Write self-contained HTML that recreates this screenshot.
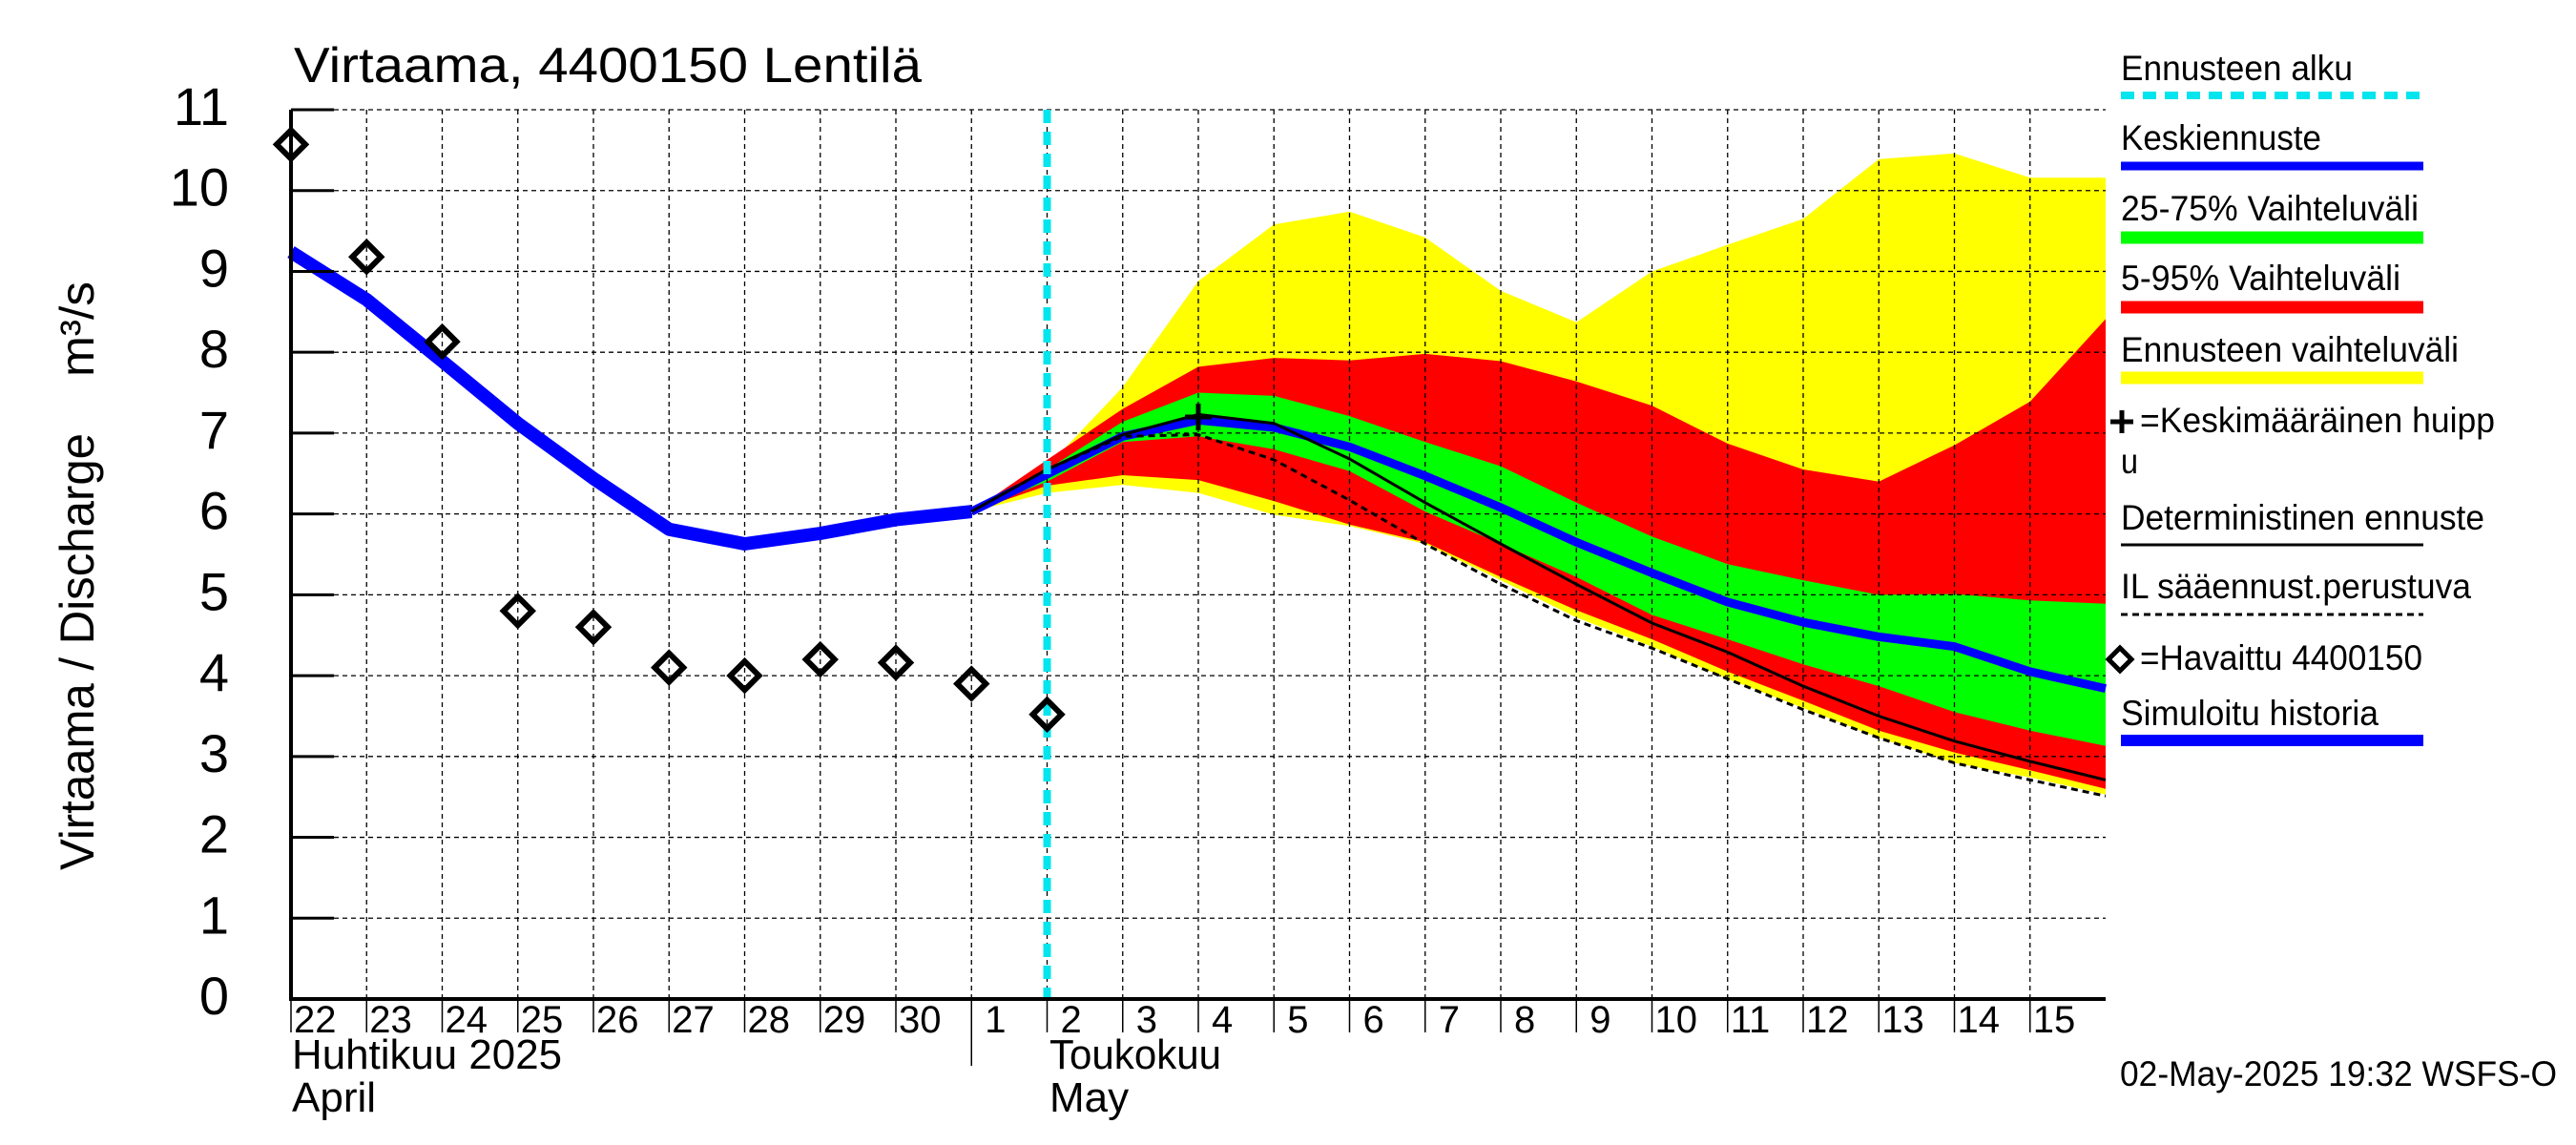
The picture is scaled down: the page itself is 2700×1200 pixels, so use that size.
<!DOCTYPE html>
<html><head><meta charset="utf-8"><style>
html,body{margin:0;padding:0;background:#fff;}
svg{display:block;font-family:"Liberation Sans",sans-serif;}
</style></head><body>
<svg id="chart" width="2700" height="1200" viewBox="0 0 2700 1200" xmlns="http://www.w3.org/2000/svg">
<rect width="2700" height="1200" fill="#fff"/>
<g id="bands"></g><g id="grid"></g><g id="lines"></g><g id="axes"></g><g id="legend"></g>
</svg>
<script>
const dayLabels=["22","23","24","25","26","27","28","29","30","1","2","3","4","5","6","7","8","9","10","11","12","13","14","15"];
const yTicks=[0,1,2,3,4,5,6,7,8,9,10,11];
const observed=[10.57,9.18,8.13,4.80,4.60,4.10,4.00,4.20,4.16,3.90,3.52];
const simHistory=[9.24,8.65,7.89,7.12,6.44,5.81,5.63,5.76,5.93,6.03];
// forecast arrays start at index 9 (1 May) through 24
const yellowHi=[6.03,6.58,7.57,8.88,9.58,9.74,9.42,8.76,8.37,9.00,9.33,9.65,10.39,10.46,10.16,10.16];
const yellowLo=[6.03,6.26,6.36,6.26,5.99,5.85,5.63,5.18,4.72,4.36,3.96,3.60,3.23,2.92,2.74,2.53];
const redHi=[6.03,6.67,7.30,7.82,7.93,7.90,7.98,7.89,7.64,7.34,6.87,6.55,6.40,6.85,7.39,8.41];
const redLo=[6.03,6.35,6.48,6.42,6.16,5.87,5.65,5.22,4.81,4.45,4.05,3.69,3.32,3.05,2.83,2.60];
const greenHi=[6.03,6.55,7.14,7.50,7.46,7.21,6.89,6.59,6.14,5.72,5.38,5.18,5.00,5.01,4.93,4.89];
const greenLo=[6.03,6.40,6.89,6.96,6.80,6.53,6.03,5.63,5.22,4.75,4.45,4.14,3.87,3.55,3.32,3.13];
const median=[6.03,6.49,6.96,7.16,7.07,6.83,6.47,6.08,5.65,5.27,4.91,4.66,4.48,4.36,4.05,3.84];
const determ=[6.03,6.55,6.98,7.23,7.12,6.68,6.14,5.63,5.13,4.65,4.29,3.87,3.50,3.19,2.94,2.71];
const ilFc=[6.03,6.55,6.96,6.98,6.67,6.17,5.63,5.13,4.68,4.34,3.96,3.58,3.23,2.92,2.71,2.51];
const peakDay=12, peakVal=7.2;
const fcStart=9, fcLineIdx=10;

const X0=305,X1=2207,Y0=1047,Y11=115;
const xs=i=>X0+i*(X1-X0)/24;
const ys=v=>Y0-v*(Y0-Y11)/11;
const NS="http://www.w3.org/2000/svg";
function mk(tag,parent,attrs){const e=document.createElementNS(NS,tag);for(const k in attrs)e.setAttribute(k,attrs[k]);parent.appendChild(e);return e;}
const G=id=>document.getElementById(id);
function pts(arr,off){return arr.map((v,i)=>xs(i+off).toFixed(1)+","+ys(v).toFixed(1)).join(" ");}
function band(hi,lo,col,name){
  const p=pts(hi,fcStart)+" "+lo.map((v,i)=>[xs(i+fcStart),ys(v)]).reverse().map(a=>a[0].toFixed(1)+","+a[1].toFixed(1)).join(" ");
  const e=mk("polygon",G("bands"),{points:p,fill:col});
  
  
}
band(yellowHi,yellowLo,"#ffff00","band-forecast-range");
band(redHi,redLo,"#ff0000","band-5-95");
band(greenHi,greenLo,"#00ff00","band-25-75");

yTicks.forEach(v=>{ if(v>0){const l=mk("line",G("grid"),{x1:X0,x2:X1,y1:ys(v),y2:ys(v),stroke:"#000","stroke-width":1.3,"stroke-dasharray":"5,4"});
  
  }
  const t=mk("line",G("axes"),{x1:X0,x2:X0+45,y1:ys(v),y2:ys(v),stroke:"#000","stroke-width":3});
  
  
  const tx=mk("text",G("axes"),{x:240,y:ys(v)+16,"font-size":56,"text-anchor":"end"});
  tx.textContent=v;
  
  
});
dayLabels.forEach((d,i)=>{
  const x=xs(i);
  if(i>0){const l=mk("line",G("grid"),{x1:x,x2:x,y1:Y11,y2:Y0,stroke:"#000","stroke-width":1.3,"stroke-dasharray":"5,4"});
    
    }
  const t=mk("line",G("axes"),{x1:x,x2:x,y1:Y0,y2:i===9?1117:1082,stroke:"#000","stroke-width":1.5});
  
  
  const tx=mk("text",G("axes"),{x:x+(d.length===1?14:3),y:1082,"font-size":40});
  tx.textContent=d;
  
  
});
mk("line",G("axes"),{x1:X0,x2:X0,y1:Y11,y2:Y0+2,stroke:"#000","stroke-width":4});
mk("line",G("axes"),{x1:X0-2,x2:X1,y1:Y0,y2:Y0,stroke:"#000","stroke-width":4});

const L=G("lines");
const sim=mk("polyline",L,{points:pts(simHistory,0),fill:"none",stroke:"#0000ff","stroke-width":14,"stroke-linejoin":"round"});


const med=mk("polyline",L,{points:pts(median,fcStart),fill:"none",stroke:"#0000ff","stroke-width":9,"stroke-linejoin":"round"});


const det=mk("polyline",L,{points:pts(determ,fcStart),fill:"none",stroke:"#000","stroke-width":3});


const il=mk("polyline",L,{points:pts(ilFc,fcStart),fill:"none",stroke:"#000","stroke-width":3,"stroke-dasharray":"7,5"});


const cy=mk("line",L,{x1:xs(fcLineIdx),x2:xs(fcLineIdx),y1:Y11,y2:Y0,stroke:"#00e5ee","stroke-width":8,"stroke-dasharray":"14,9"});


observed.forEach((v,i)=>{const x=xs(i),y=ys(v);
  const d=mk("polygon",L,{points:`${x},${y-15} ${x+15},${y} ${x},${y+15} ${x-15},${y}`,fill:"none",stroke:"#000","stroke-width":6});
  
  
});
{const x=xs(peakDay),y=ys(peakVal);
 const p=mk("path",L,{d:`M${x-14},${y}H${x+14}M${x},${y-14}V${y+14}`,stroke:"#000","stroke-width":5});
 
 }

const LG=G("legend");
function ltext(s,x,y,w,name){const t=mk("text",LG,{x:x,y:y,"font-size":37,textLength:w,lengthAdjust:"spacingAndGlyphs"});t.textContent=s;
  
  return t;}
function lline(y,col,w,dash,name){const l=mk("line",LG,{x1:2223,x2:2540,y1:y,y2:y,stroke:col,"stroke-width":w});if(dash)l.setAttribute("stroke-dasharray",dash);
  
  }
ltext("Ennusteen alku",2223,84,243,"legend-forecast-start");lline(100,"#00e5ee",8,"14,9","legend-forecast-start-swatch");
ltext("Keskiennuste",2223,157,210,"legend-median");lline(174,"#0000ff",9,null,"legend-median-swatch");
ltext("25-75% Vaihteluväli",2223,231,312,"legend-25-75");lline(249,"#00ff00",13,null,"legend-25-75-swatch");
ltext("5-95% Vaihteluväli",2223,304,293,"legend-5-95");lline(322,"#ff0000",13,null,"legend-5-95-swatch");
ltext("Ennusteen vaihteluväli",2223,379,354,"legend-range");lline(396,"#ffff00",13,null,"legend-range-swatch");
ltext("=Keskimääräinen huipp",2243,453,372,"legend-peak");
mk("path",LG,{d:"M2212,442H2236M2224,430V454",stroke:"#000","stroke-width":5});
ltext("u",2223,496,18,"legend-peak-wrap");
ltext("Deterministinen ennuste",2223,555,381,"legend-deterministic");lline(571,"#000",3,null,"legend-deterministic-swatch");
ltext("IL sääennust.perustuva",2223,627,367,"legend-il");lline(644,"#000",3,"7,5","legend-il-swatch");
mk("polygon",LG,{points:"2222,679 2234,691 2222,703 2210,691",fill:"none",stroke:"#000","stroke-width":5});
ltext("=Havaittu 4400150",2243,702,296,"legend-observed");
ltext("Simuloitu historia",2223,760,270,"legend-simulated");lline(776,"#0000ff",12,null,"legend-simulated-swatch");
</script>
<svg style="position:absolute;left:0;top:0" width="2700" height="1200">
<text x="308" y="86" font-size="52" textLength="658" lengthAdjust="spacingAndGlyphs" font-family="Liberation Sans, sans-serif">Virtaama, 4400150 Lentilä</text>
<text transform="translate(98,912) rotate(-90)" font-size="50" textLength="458" lengthAdjust="spacingAndGlyphs" font-family="Liberation Sans, sans-serif">Virtaama / Discharge</text>
<text transform="translate(98,395) rotate(-90)" font-size="50" textLength="100" lengthAdjust="spacingAndGlyphs" font-family="Liberation Sans, sans-serif">m³/s</text>
<text x="306" y="1120" font-size="44" textLength="283" lengthAdjust="spacingAndGlyphs" font-family="Liberation Sans, sans-serif">Huhtikuu  2025</text>
<text x="306" y="1165" font-size="44" font-family="Liberation Sans, sans-serif">April</text>
<text x="1100" y="1120" font-size="44" textLength="180" lengthAdjust="spacingAndGlyphs" font-family="Liberation Sans, sans-serif">Toukokuu</text>
<text x="1100" y="1165" font-size="44" font-family="Liberation Sans, sans-serif">May</text>
<text x="2222" y="1138" font-size="37" textLength="458" lengthAdjust="spacingAndGlyphs" font-family="Liberation Sans, sans-serif">02-May-2025 19:32 WSFS-O</text>
</svg>
</body></html>
